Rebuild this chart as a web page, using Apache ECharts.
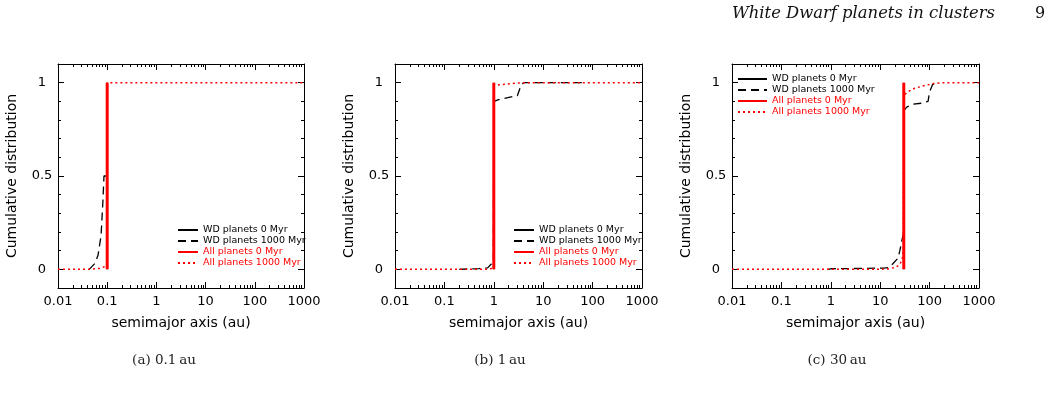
<!DOCTYPE html>
<html>
<head>
<meta charset="utf-8">
<script src="https://cdn.jsdelivr.net/npm/echarts@6/dist/echarts.min.js"></script>
<style>
  html, body { margin: 0; padding: 0; background: #fff; }
  #main { width: 1052px; height: 395px; }
</style>
</head>
<body>
<div id="main"></div>
<script>
// tick labels
const xTickLabels = ['0.01', '0.1', '1', '10', '100', '1000'];
const yTickValues = [0, 0.5, 1];
const yTickLabels = ['0', '0.5', '1'];
const yMinorValues = [0.1, 0.2, 0.3, 0.4, 0.6, 0.7, 0.8, 0.9];

const names = ['WD planets 0 Myr', 'WD planets 1000 Myr', 'All planets 0 Myr', 'All planets 1000 Myr'];
const captions = ['(a) 0.1\u2009au', '(b) 1\u2009au', '(c) 30\u2009au'];

// (a) 0.1 au
const aWd0 = [[0.1, 0], [0.1, 1]];
const aWd1000 = [[0.043, 0], [0.0565, 0.032], [0.065, 0.075], [0.075, 0.18], [0.082, 0.37], [0.086, 0.5], [0.1, 0.5], [0.1, 1]];
const aAll0 = [[0.1, 0], [0.1, 1]];
const aAll1000 = [[0.01, 0], [0.045, 0], [0.07, 0.005], [0.09, 0.015], [0.099, 0.03], [0.1, 1], [1000, 1]];

// (b) 1 au
const bWd0 = [[1, 0], [1, 1]];
const bWd1000 = [[0.2, 0], [0.3, 0.002], [0.5, 0.004], [0.75, 0.008], [0.9, 0.03], [0.98, 0.05], [1, 0.9], [1.3, 0.91], [2.4, 0.925], [3.0, 0.93], [3.5, 0.98], [4, 1], [65, 1]];
const bAll0 = [[1, 0], [1, 1]];
const bAll1000 = [[0.01, 0], [0.7, 0], [0.9, 0.005], [0.99, 0.01], [1, 0.985], [1.5, 0.99], [3, 0.998], [5, 1], [1000, 1]];

// (c) 30 au
const cWd0 = [[30, 0], [30, 1]];
const cWd1000 = [[0.88, 0], [1, 0.003], [5, 0.005], [12, 0.007], [15, 0.01], [18, 0.03], [23, 0.06], [25, 0.1], [27.5, 0.155], [30, 0.2], [30, 0.85], [35, 0.87], [46, 0.885], [70, 0.89], [93, 0.9], [100, 0.95], [115, 0.99], [140, 1]];
const cAll0 = [[30, 0], [30, 1]];
const cAll1000 = [[0.01, 0], [10, 0], [15, 0.003], [20, 0.01], [25, 0.025], [28, 0.06], [29.5, 0.12], [30, 0.93], [35, 0.95], [50, 0.97], [80, 0.985], [120, 0.995], [200, 1], [1000, 1]];

const panels = [
  { left: 58, width: 246, data: [aWd0, aWd1000, aAll0, aAll1000], legLeft: 177, legTop: [225, 247], legLine: 20, capX: 164 },
  { left: 395, width: 247, data: [bWd0, bWd1000, bAll0, bAll1000], legLeft: 513, legTop: [225, 247], legLine: 20, capX: 500 },
  { left: 732, width: 247, data: [cWd0, cWd1000, cAll0, cAll1000], legLeft: 737, legTop: [74, 96], legLine: 29, capX: 837 }
];

const RED = '#ff0000';
const BLACK = '#000000';
const styles = [
  { color: BLACK, width: 1.5, type: 'solid' },
  { color: BLACK, width: 1.3, type: [8, 5] },
  { color: RED, width: 3, type: 'solid' },
  { color: RED, width: 1.5, type: [2, 3] }
];
const SANS = 'DejaVu Sans';

const chart = echarts.init(document.getElementById('main'));

const grid = [], xAxis = [], yAxis = [], series = [], legend = [], graphic = [];

panels.forEach((p, i) => {
  grid.push({ left: p.left, top: 64, width: p.width, height: 224 });

  ['bottom', 'top'].forEach(pos => {
    xAxis.push({
      gridIndex: i, type: 'log', logBase: 10, min: 0.01, max: 1000, position: pos,
      axisLine: { show: true, onZero: false, lineStyle: { color: BLACK, width: 1 } },
      axisTick: { show: true, inside: true, length: 6, lineStyle: { color: BLACK } },
      minorTick: { show: true, splitNumber: 9, length: 3, lineStyle: { color: BLACK } },
      splitLine: { show: false },
      axisLabel: pos === 'bottom' ? {
        show: true, margin: 7, color: BLACK, fontFamily: SANS, fontSize: 13,
        formatter: v => xTickLabels[Math.round(Math.log10(v)) + 2]
      } : { show: false },
      name: pos === 'bottom' ? 'semimajor axis (au)' : '',
      nameLocation: 'middle', nameGap: 28,
      nameTextStyle: { color: BLACK, fontFamily: SANS, fontSize: 14 }
    });
  });

  ['left', 'right'].forEach(pos => {
    // major ticks (with labels on the left)
    yAxis.push({
      gridIndex: i, type: 'value', min: -0.1, max: 1.1, position: pos,
      axisLine: { show: true, onZero: false, lineStyle: { color: BLACK, width: 1 } },
      axisTick: { show: true, inside: true, length: 6, customValues: yTickValues, lineStyle: { color: BLACK } },
      splitLine: { show: false },
      axisLabel: pos === 'left' ? {
        show: true, customValues: yTickValues, margin: 16, align: 'center',
        color: BLACK, fontFamily: SANS, fontSize: 13,
        formatter: v => yTickLabels[yTickValues.indexOf(Math.round(v * 10) / 10)]
      } : { show: false },
      name: pos === 'left' ? 'Cumulative distribution' : '',
      nameLocation: 'middle', nameGap: 39,
      nameTextStyle: { color: BLACK, fontFamily: SANS, fontSize: 14 }
    });
    // minor ticks
    yAxis.push({
      gridIndex: i, type: 'value', min: -0.1, max: 1.1, position: pos,
      axisLine: { show: false, onZero: false },
      axisTick: { show: true, inside: true, length: 3, customValues: yMinorValues, lineStyle: { color: BLACK } },
      splitLine: { show: false },
      axisLabel: { show: false }
    });
  });

  p.data.forEach((d, k) => {
    const s = styles[k];
    series.push({
      name: names[k], type: 'line', data: d,
      xAxisIndex: 2 * i, yAxisIndex: 4 * i,
      symbol: 'none', showSymbol: false, silent: true, animation: false,
      color: s.color,
      itemStyle: { color: s.color },
      lineStyle: { color: s.color, width: s.width, type: s.type },
      z: 2 + k
    });
  });

  [0, 1].forEach(g => {
    legend.push({
      orient: 'vertical', left: p.legLeft, top: p.legTop[g], padding: 0,
      itemWidth: p.legLine, itemHeight: 8, itemGap: 1,
      selectedMode: false,
      // hide the marker symbol, keep only the line sample
      itemStyle: { color: 'rgba(0,0,0,0)', borderColor: 'rgba(0,0,0,0)', borderWidth: 0 },
      textStyle: { fontFamily: SANS, fontSize: 9.5, lineHeight: 9 },
      data: names.slice(2 * g, 2 * g + 2).map(n => ({ name: n, textStyle: { color: g === 0 ? BLACK : RED } }))
    });
  });

  graphic.push({
    type: 'text', x: p.capX, y: 360,
    style: { text: captions[i], font: '13.5px "DejaVu Serif"', fill: '#222', align: 'center', verticalAlign: 'middle' }
  });
});

graphic.push({
  type: 'text', x: 995, y: 14,
  style: { text: 'White Dwarf planets in clusters', font: 'italic 16.4px "DejaVu Serif"', fill: '#111', align: 'right', verticalAlign: 'middle' }
});
graphic.push({
  type: 'text', x: 1040, y: 14,
  style: { text: '9', font: '16px "DejaVu Serif"', fill: '#111', align: 'center', verticalAlign: 'middle' }
});

const option = {
  animation: false,
  backgroundColor: '#fff',
  grid, xAxis, yAxis, series, legend, graphic
};
option && chart.setOption(option);
</script>
</body>
</html>
